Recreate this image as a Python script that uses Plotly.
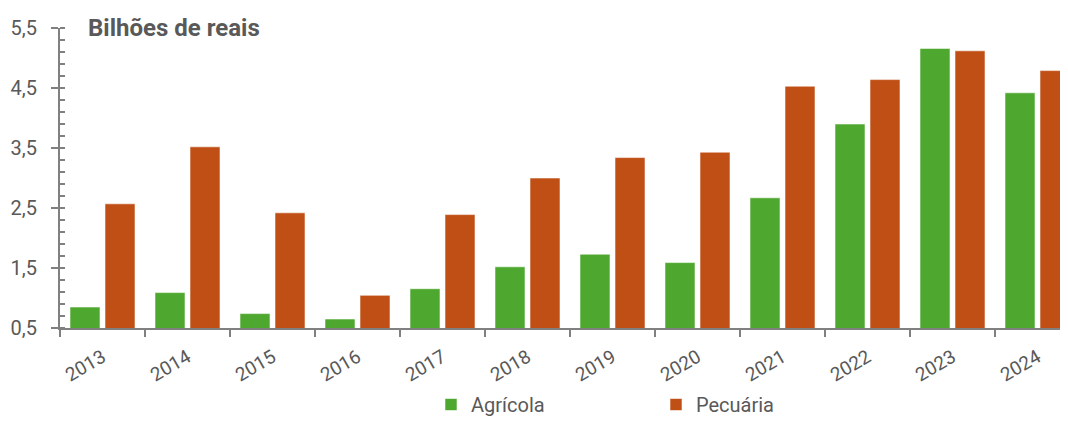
import plotly.graph_objects as go

anos = ["2013", "2014", "2015", "2016", "2017", "2018", "2019", "2020", "2021", "2022", "2023", "2024"]
agricola = [0.85, 1.09, 0.74, 0.65, 1.155, 1.52, 1.73, 1.59, 2.67, 3.90, 5.16, 4.42]
pecuaria = [2.57, 3.52, 2.42, 1.045, 2.39, 3.00, 3.34, 3.43, 4.53, 4.64, 5.12, 4.79]

VERDE = "#4EA72E"
LARANJA = "#C04F15"
CINZA = "#595959"
EIXO = "#808080"
FONTE = "Roboto, Liberation Sans, Arial, sans-serif"

fig = go.Figure()
fig.add_trace(go.Bar(x=anos, y=agricola, name="Agrícola", marker_color=VERDE,
                     marker_line=dict(color="rgba(255,255,255,0.55)", width=1)))
fig.add_trace(go.Bar(x=anos, y=pecuaria, name="Pecuária", marker_color=LARANJA,
                     marker_line=dict(color="rgba(255,255,255,0.55)", width=1)))

# page body has an 8px margin, so the figure is sized to fit inside the window
fig.update_layout(
    width=1060, height=416,
    margin=dict(l=52, r=0, t=20, b=96, pad=0),
    plot_bgcolor="white", paper_bgcolor="white",
    barmode="group", bargap=15/85, bargroupgap=5/35,
    separators=",.",
    font=dict(family=FONTE, color=CINZA, size=20),
    showlegend=True,
    legend=dict(orientation="h", x=(431-60)/1008, xanchor="left",
                yref="container", y=-0.02, yanchor="bottom",
                font=dict(size=20, color=CINZA), entrywidth=180, traceorder="normal"),
    annotations=[dict(text="<b>Bilhões de reais</b>", xref="paper", yref="paper",
                      x=(86-60)/1008, y=1.0, xanchor="left", yanchor="middle",
                      showarrow=False, font=dict(size=24, color=CINZA, family=FONTE))],
)

fig.update_xaxes(
    type="category", range=[-0.5, -0.5 + 1008/85], automargin=False,
    showline=True, linecolor=EIXO, linewidth=2,
    ticks="outside", tickson="boundaries", ticklen=7, tickcolor=EIXO, tickwidth=2,
    ticklabelstandoff=9,
    tickangle=-30, tickfont=dict(size=19, color=CINZA), showgrid=False,
)
fig.update_yaxes(
    range=[0.5, 5.5], tick0=0.5, dtick=1, tickformat=".1f", automargin=False,
    showline=True, linecolor=EIXO, linewidth=2,
    ticks="outside", ticklen=7, tickcolor=EIXO, tickwidth=2,
    ticklabelstandoff=10,
    minor=dict(ticks="inside", dtick=0.2, tick0=0.5, ticklen=5, tickcolor=EIXO, tickwidth=2, showgrid=False),
    tickfont=dict(size=20, color=CINZA), showgrid=False, zeroline=False,
)

fig.write_html("out.html")
